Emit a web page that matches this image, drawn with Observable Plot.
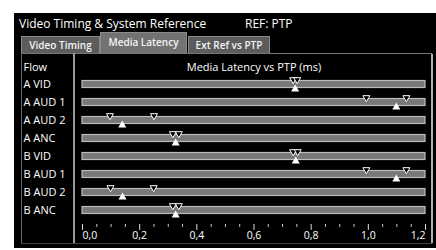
<!DOCTYPE html>
<html><head><meta charset="utf-8">
<script src="https://cdn.jsdelivr.net/npm/d3@7"></script>
<script src="https://cdn.jsdelivr.net/npm/@observablehq/plot@0.6"></script>
<style>
html,body{margin:0;padding:0;background:#fff;width:436px;height:250px;overflow:hidden;font-family:"Open Sans",sans-serif;}
#screen{position:absolute;left:14px;top:13px;width:422px;height:235px;background:#000;color:#fff;overflow:hidden;}
#title{position:absolute;left:5px;top:2px;font-size:12px;line-height:17px;white-space:nowrap;}
#ref{position:absolute;left:231px;top:2px;font-size:12px;line-height:17px;white-space:nowrap;}
.tab{position:absolute;top:23px;height:17px;background:#5c5c5c;border:1px solid #8a8a8a;border-bottom:none;box-sizing:border-box;font-size:10px;font-weight:600;text-align:center;line-height:16px;white-space:nowrap;color:#f4f4f4;}
.tab.active{top:19px;height:21px;background:#727272;line-height:19px;}
#tline{position:absolute;left:7px;top:40px;width:411px;height:1px;background:#777;}
#lline{position:absolute;left:7px;top:40px;width:1px;height:190px;background:#666;}
#bline{position:absolute;left:7px;top:230px;width:411px;height:1px;background:#444;}
#sep{position:absolute;left:59px;top:40px;width:2px;height:190px;background:#9a9a9a;}
#rsep{position:absolute;left:417px;top:41px;width:2px;height:189px;background:#b0b0b0;}
#chart{position:absolute;left:0;top:40px;}
</style>
</head><body>
<div id="screen">
  <div id="title">Video Timing &amp; System Reference</div>
  <div id="ref">REF: PTP</div>
  <div class="tab" style="left:7px;width:79px;">Video Timing</div>
  <div class="tab active" style="left:86px;width:87px;">Media Latency</div>
  <div class="tab" style="left:174px;width:82px;">Ext Ref vs PTP</div>
  <div id="tline"></div><div id="lline"></div><div id="bline"></div>
  <div id="sep"></div><div id="rsep"></div>
  <div id="chart"></div>
</div>
<script>
const flows = ["A VID", "A AUD 1", "A AUD 2", "A ANC", "B VID", "B AUD 1", "B AUD 2", "B ANC"];
const current = [0.744, 1.098, 0.139, 0.326, 0.746, 1.098, 0.140, 0.326];
const minimum = [0.737, 0.993, 0.096, 0.316, 0.737, 0.993, 0.098, 0.316];
const maximum = [0.751, 1.133, 0.250, 0.337, 0.753, 1.133, 0.249, 0.337];
const trackRange = [0, 1.2];
const majorTicks = [0, 0.2, 0.4, 0.6, 0.8, 1.0, 1.2];
const tickLabels = ["0,0", "0,2", "0,4", "0,6", "0,8", "1,0", "1,2"];
const minorTicks = [0.05, 0.1, 0.15, 0.25, 0.3, 0.35, 0.45, 0.5, 0.55, 0.65, 0.7, 0.75, 0.85, 0.9, 0.95, 1.05, 1.1, 1.15];
const axisTitle = "Media Latency vs PTP (ms)";
const flowHeader = "Flow";

const rows = flows.map((f, i) => ({flow: f, cur: current[i], lo: trackRange[0], hi: trackRange[1]}));
const extremes = flows.flatMap((f, i) => [{flow: f, v: minimum[i]}, {flow: f, v: maximum[i]}]);
const labels = majorTicks.map((v, i) => ({v, label: tickLabels[i], i}));
const last = labels.length - 1;

const chart = Plot.plot({
  width: 422, height: 195,
  marginLeft: 68, marginRight: 11, marginTop: 19.3, marginBottom: 25.6,
  x: {domain: trackRange, axis: null},
  y: {domain: flows, axis: null, padding: 0},
  style: {background: "none", color: "#fff", fontFamily: "Open Sans", fontSize: "11px", overflow: "visible"},
  marks: [
    Plot.barX(rows, {y: "flow", x1: "lo", x2: "hi", fill: "#787878", stroke: "#bcbcbc", strokeWidth: 1.2, insetTop: 5.5, insetBottom: 5.5}),
    Plot.dot(extremes, {x: "v", y: "flow", symbol: "triangle", rotate: 180, r: 2.6, fill: "#000", stroke: "#fff", strokeWidth: 1, dy: -4.8}),
    Plot.dot(rows, {x: "cur", y: "flow", symbol: "triangle", r: 3, fill: "#fff", stroke: "none", dy: 4.6}),
    Plot.axisY({tickSize: 0, tickPadding: 0, textAnchor: "start", dx: -59, fill: "#fff", fontSize: 11, label: null}),
    Plot.axisX({ticks: minorTicks, tickSize: 3, fill: "none", stroke: "#ccc", label: null, dy: 1.5}),
    Plot.axisX({ticks: majorTicks, tickSize: 6, fill: "none", stroke: "#ddd", label: null, dy: 1.5}),
    Plot.text(labels, {filter: d => d.i === 0, x: "v", text: "label", frameAnchor: "bottom", textAnchor: "start", dy: 16.5, fill: "#fff", fontSize: 10.5}),
    Plot.text(labels, {filter: d => d.i > 0 && d.i < last, x: "v", text: "label", frameAnchor: "bottom", dy: 16.5, fill: "#fff", fontSize: 10.5}),
    Plot.text(labels, {filter: d => d.i === last, x: "v", text: "label", frameAnchor: "bottom", textAnchor: "end", dy: 16.5, fill: "#fff", fontSize: 10.5}),
    Plot.text([axisTitle], {frameAnchor: "top", dy: -10, fill: "#fff", fontSize: 11}),
    Plot.text([flowHeader], {frameAnchor: "top-left", textAnchor: "start", dx: -59, dy: -10, fill: "#fff", fontSize: 11})
  ]
});
document.getElementById("chart").appendChild(chart);
</script>
</body></html>
